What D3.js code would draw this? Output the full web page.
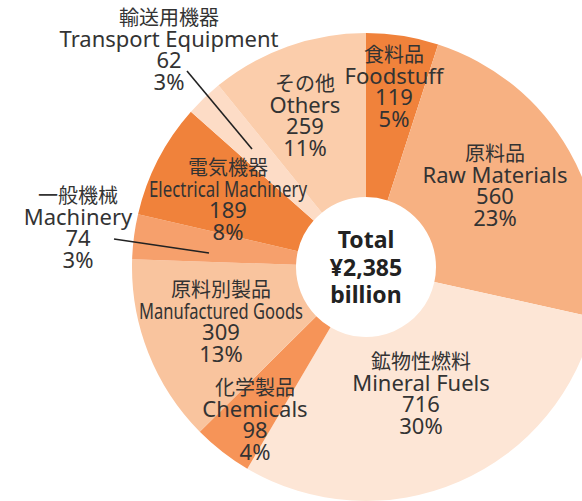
<!DOCTYPE html>
<html>
<head>
<meta charset="utf-8">
<script src="https://cdn.jsdelivr.net/npm/d3@7"></script>
<style>
    html, body { margin: 0; padding: 0; background: #ffffff; }
    svg { display: block; }
</style>
</head>
<body>
<svg id="chart" width="582" height="501"></svg>
<script>
// values in billion yen, clockwise from 12 o'clock
const categoriesJa = ["食料品", "原料品", "鉱物性燃料", "化学製品", "原料別製品", "一般機械", "電気機器", "輸送用機器", "その他"];
const categoriesEn = ["Foodstuff", "Raw Materials", "Mineral Fuels", "Chemicals", "Manufactured Goods", "Machinery", "Electrical Machinery", "Transport Equipment", "Others"];
const values = [119, 560, 716, 98, 309, 74, 189, 62, 259];
const totalValue = 2385;
const centerLines = ["Total", "¥2,385", "billion"];

const palette = ["#f0823b", "#f7b182", "#fde6d6", "#f69458", "#f9c49e", "#f6a06c", "#f0823b", "#fddcc6", "#fbcdab"];

// where each label block sits (x centre, baseline of first line)
const labelLayout = {
    "Foodstuff": { x: 394, y: 62 },
    "Raw Materials": { x: 495, y: 161 },
    "Mineral Fuels": { x: 421, y: 369 },
    "Chemicals": { x: 255, y: 395 },
    "Manufactured Goods": { x: 221, y: 297, squeeze: 164 },
    "Machinery": { x: 78, y: 203 },
    "Electrical Machinery": { x: 228, y: 175, squeeze: 158 },
    "Transport Equipment": { x: 169, y: 25 },
    "Others": { x: 305, y: 91 }
};
// leader lines for the thin slices
const leaders = [
    { from: [187, 71], to: [252, 149] },
    { from: [114, 239], to: [209, 253] }
];

const LINE_H = 21.7;
const cx = 366, cy = 267;
const outerR = 234, innerR = 70;

let svg = d3.select("#chart");

let data = values.map((v, i) => ({ ja: categoriesJa[i], en: categoriesEn[i], value: v }));

let color = d3.scaleOrdinal()
    .domain(categoriesEn)
    .range(palette);

let pie = d3.pie()
    .sort(null)
    .value(d => d.value);

let arc = d3.arc()
    .innerRadius(innerR)
    .outerRadius(outerR);

let pieGroup = svg.append('g')
    .attr("id", 'pie-g')
    .attr('transform', `translate(${cx},${cy})`);

pieGroup.selectAll('.slice')
    .data(pie(data))
    .enter()
    .append('path')
    .classed('slice', true)
    .attr('d', arc)
    .attr('fill', d => color(d.data.en));

// leader lines
svg.append('g')
    .attr("id", 'leader-g')
    .selectAll('line')
    .data(leaders)
    .enter()
    .append('line')
    .attr('x1', d => d.from[0])
    .attr('y1', d => d.from[1])
    .attr('x2', d => d.to[0])
    .attr('y2', d => d.to[1])
    .attr('stroke', '#222')
    .attr('stroke-width', 1.6);

// labels: one text block per slice, four lines
let labelGroup = svg.append('g')
    .attr("id", 'label-g')
    .attr('fill', '#333')
    .attr('text-anchor', 'middle');

data.forEach(d => {
    let pos = labelLayout[d.en];
    let pct = Math.round(d.value / totalValue * 100) + "%";

    let text = labelGroup.append('text')
        .attr('x', pos.x)
        .attr('y', pos.y)
        .style('font-family', '"Noto Sans", "Noto Sans CJK JP", sans-serif')
        .style('font-size', '22px');

    text.append('tspan')
        .attr('x', pos.x)
        .attr('y', pos.y)
        .style('font-family', '"Noto Sans CJK JP", sans-serif')
        .style('font-size', '20px')
        .text(d.ja);

    let en = text.append('tspan')
        .attr('x', pos.x)
        .attr('y', pos.y + LINE_H)
        .text(d.en);
    if (pos.squeeze) {
        en.attr('textLength', pos.squeeze)
            .attr('lengthAdjust', 'spacingAndGlyphs');
    }

    [d3.format(",")(d.value), pct].forEach((t, i) => {
        text.append('tspan')
            .attr('x', pos.x)
            .attr('y', pos.y + LINE_H * (i + 2))
            .text(t);
    });
});

// centre total
let totalText = svg.append('text')
    .attr("id", 'total-text')
    .attr('text-anchor', 'middle')
    .attr('fill', '#222')
    .style('font-family', '"Noto Sans", sans-serif')
    .style('font-weight', 'bold')
    .style('font-size', '23px');

totalText.selectAll('tspan')
    .data(centerLines)
    .enter()
    .append('tspan')
    .attr('x', cx)
    .attr('y', (d, i) => 248 + i * 27.5)
    .text(d => d);
</script>
</body>
</html>
